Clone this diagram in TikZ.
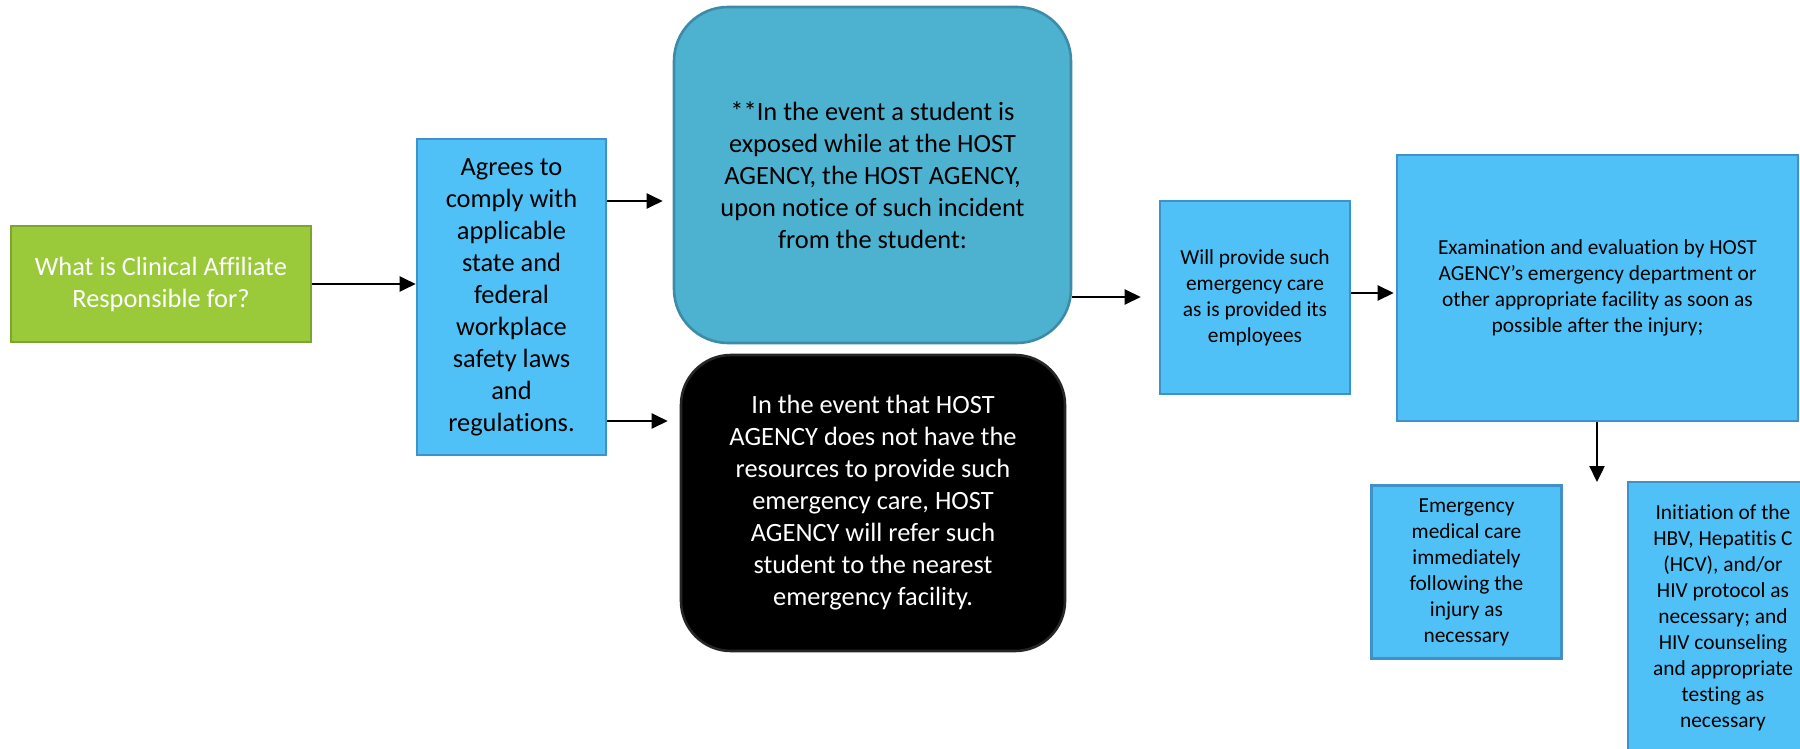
\documentclass[tikz,border=0pt]{standalone}
\usepackage{fontspec}
\setmainfont{Carlito}[Ligatures=NoCommon]
\usetikzlibrary{arrows.meta}
\definecolor{grn}{RGB}{154,202,58}
\definecolor{grnb}{RGB}{122,166,46}
\definecolor{sky}{RGB}{80,193,246}
\definecolor{skyb}{RGB}{62,146,200}
\definecolor{tealf}{RGB}{77,177,208}
\definecolor{tealb}{RGB}{60,140,168}
\begin{document}
\begin{tikzpicture}[x=0.5pt,y=-0.5pt,
  box/.style={draw=skyb, fill=sky, line width=1.3pt, align=center, inner sep=0pt,
    font=\fontsize{10.7}{13}\selectfont},
  bigtext/.style={font=\fontsize{13.2}{16}\selectfont},
  arr/.style={-{Triangle[length=8pt,width=7.5pt]}, line width=1.2pt}]
\useasboundingbox (0,0) rectangle (1800,749);
\clip (0,0) rectangle (1800,749);

\node[box, bigtext, draw=grnb, fill=grn, text=white, minimum width=150pt, minimum height=58pt]
  (green) at (161,284) {What is Clinical Affiliate\\Responsible for?};
\node[box, bigtext, minimum width=94.5pt, minimum height=158pt]
  (agree) at (511.5,297) {Agrees to\\comply with\\applicable\\state and\\federal\\workplace\\safety laws\\and\\regulations.};
\node[box, bigtext, draw=tealb, fill=tealf, rounded corners=27pt, minimum width=198.5pt, minimum height=168pt]
  (teal) at (872.5,175) {**In the event a student is\\exposed while at the HOST\\AGENCY, the HOST AGENCY,\\upon notice of such incident\\from the student:};
\node[box, bigtext, draw=black!85, fill=black, text=white, rounded corners=25pt, minimum width=192pt, minimum height=148pt]
  (black) at (873,503) {In the event that HOST\\AGENCY does not have the\\resources to provide such\\emergency care, HOST\\AGENCY will refer such\\student to the nearest\\emergency facility.};
\node[box, minimum width=95pt, minimum height=96.5pt]
  (will) at (1255,297.5) {Will provide such\\emergency care\\as is provided its\\employees};
\node[box, minimum width=200.5pt, minimum height=133pt]
  (exam) at (1597.5,288) {Examination and evaluation by HOST\\AGENCY’s emergency department or\\other appropriate facility as soon as\\possible after the injury;};
\node[box, minimum width=95pt, minimum height=86.5pt]
  (emerg) at (1466.5,572) {Emergency\\medical care\\immediately\\following the\\injury as\\necessary};
\node[box, minimum width=95pt, minimum height=135.5pt]
  (init) at (1723,617.5) {Initiation of the\\HBV, Hepatitis C\\(HCV), and/or\\HIV protocol as\\necessary; and\\HIV counseling\\and appropriate\\testing as\\necessary};

\coordinate (split) at (1597,482);

\draw[arr] (green.east) -- (agree.west |- green.east);
\draw[arr, shorten >=5pt] (agree.east |- 0,201) -- (teal.west |- 0,201);
\draw[arr, shorten >=6pt] (agree.east |- 0,421) -- (black.west |- 0,421);
\draw[arr, shorten >=9pt] (teal.east |- 0,297) -- (will.west |- 0,297);
\draw[arr, shorten >=1pt] (will.east |- 0,293) -- (exam.west |- 0,293);
\draw[arr] (exam.south -| split) -- (split);
\end{tikzpicture}
\end{document}
